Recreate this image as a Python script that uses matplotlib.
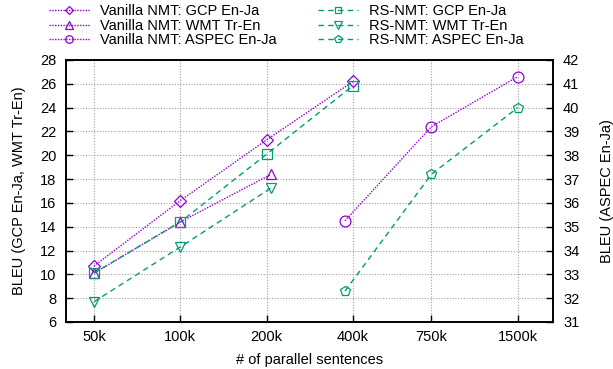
import numpy as np
import matplotlib.pyplot as plt

plt.rcParams['font.family'] = ['Liberation Sans', 'DejaVu Sans']
plt.rcParams['font.size'] = 10.5

# data (x in thousands of sentences)
x_ticks = [50, 100, 200, 400, 750, 1500]
x_tick_labels = ["50k", "100k", "200k", "400k", "750k", "1500k"]

gcp_x = [50, 100, 200, 400]
wmt_x = [50, 100, 207]
aspec_x = [375, 750, 1500]

vanilla_gcp = [10.7, 16.2, 21.3, 26.2]
vanilla_wmt = [10.1, 14.4, 18.4]
vanilla_aspec = [35.25, 39.2, 41.3]

rs_gcp = [10.1, 14.4, 20.1, 25.85]
rs_wmt = [7.7, 12.3, 17.25]
rs_aspec = [32.3, 37.2, 40.0]

purple = "#9400d3"
green = "#009e73"
dot = (0, (1, 1))
dash = (0, (4, 3))

fig = plt.figure(figsize=(6.13, 3.69), dpi=100)
ax = fig.add_axes([0.1077, 0.1274, 0.7949, 0.71])
ax2 = ax.twinx()

mk = dict(markersize=7.8, markerfacecolor="none", markeredgewidth=0.9, linewidth=1.0)
mk_small = {**mk, "markersize": 6.5}

h1, = ax.plot(gcp_x, vanilla_gcp, color=purple, linestyle=dot, marker="D", label="Vanilla NMT: GCP En-Ja", **mk_small)
h2, = ax.plot(wmt_x, vanilla_wmt, color=purple, linestyle=dot, marker="^", label="Vanilla NMT: WMT Tr-En", **mk)
h3, = ax2.plot(aspec_x, vanilla_aspec, color=purple, linestyle=dot, marker="o", label="Vanilla NMT: ASPEC En-Ja", **mk)
h4, = ax.plot(gcp_x, rs_gcp, color=green, linestyle=dash, marker="s", label="RS-NMT: GCP En-Ja", **mk_small)
h5, = ax.plot(wmt_x, rs_wmt, color=green, linestyle=dash, marker="v", label="RS-NMT: WMT Tr-En", **mk)
h6, = ax2.plot(aspec_x, rs_aspec, color=green, linestyle=dash, marker="p", label="RS-NMT: ASPEC En-Ja", **mk)

ax.set_xscale("log", base=2)
ax.set_xlim(50 / 2 ** 0.324, 1500 * 2 ** 0.412)
ax.set_xticks(x_ticks)
ax.set_xticklabels(x_tick_labels)
ax.minorticks_off()
ax.set_ylim(6, 28)
ax.set_yticks(np.arange(6, 29, 2))
ax2.set_ylim(31, 42)
ax2.set_yticks(np.arange(31, 43, 1))

ax.grid(True, color="#a0a0a0", linestyle=(0, (1, 1.5)), linewidth=0.8)
ax.tick_params(direction="in", length=5, width=1, top=False, pad=7)
ax.tick_params(axis="x", pad=6)
ax2.tick_params(direction="in", length=5, width=1, pad=7)
for a in (ax, ax2):
    for s in a.spines.values():
        s.set_linewidth(1.2)

ax.set_xlabel("# of parallel sentences", labelpad=6)
ax.set_ylabel("BLEU (GCP En-Ja, WMT Tr-En)", labelpad=10)
ax2.set_ylabel("BLEU (ASPEC En-Ja)", labelpad=15)

fig.legend(handles=[h1, h2, h3, h4, h5, h6], ncol=2, frameon=False,
           loc="upper left", bbox_to_anchor=(0.0705, 1.004),
           handlelength=2.8, columnspacing=2.8, labelspacing=0.03,
           handletextpad=0.7, borderaxespad=0, markerscale=0.7)

fig.savefig("out.png", dpi=100)
